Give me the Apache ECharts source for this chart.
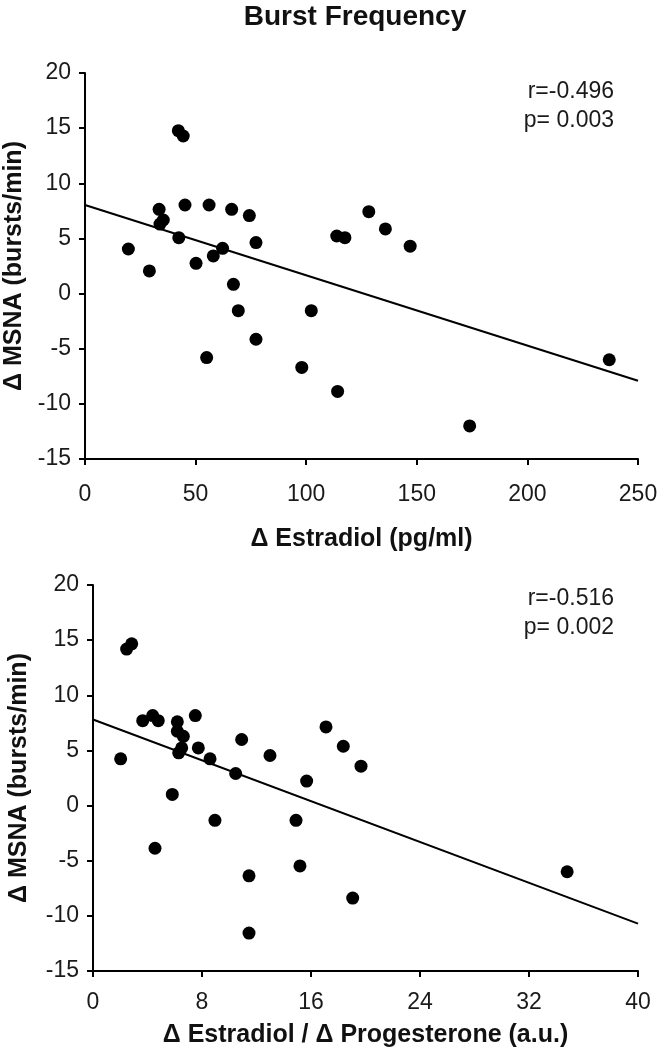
<!DOCTYPE html>
<html>
<head>
<meta charset="utf-8">
<script src="https://cdn.jsdelivr.net/npm/echarts@6/dist/echarts.min.js"></script>
<style>html,body{margin:0;padding:0;background:#fff}#c{width:662px;height:1050px}</style>
</head>
<body>
<div id="c"></div>
<script>
// Top panel: Δ Estradiol (pg/ml) vs Δ MSNA
const estradiolX = [42.2, 44.4, 33.5, 35.4, 33.9, 45.2, 56.1, 66.3, 74.3, 19.6, 42.4, 29.1, 50.2, 58.0, 62.2, 77.3, 67.1, 69.3, 102.3, 77.3, 55.0, 113.8, 117.5, 128.3, 135.8, 147.0, 98.0, 114.2, 173.9, 237.0];
const msnaTopY   = [14.77, 14.29, 7.64, 6.67, 6.3, 8.03, 8.03, 7.64, 7.07, 4.04, 5.07, 2.05, 2.74, 3.41, 4.1, 4.62, 0.84, -1.55, -1.55, -4.14, -5.8, 5.22, 5.07, 7.43, 5.86, 4.3, -6.7, -8.87, -12.0, -6.0];
const fitTop = [[0, 8.03], [250, -7.9]];

// Bottom panel: Δ Estradiol / Δ Progesterone (a.u.) vs Δ MSNA
const ratioX    = [2.47, 2.84, 3.65, 4.38, 4.79, 6.19, 6.19, 6.63, 6.51, 6.29, 7.51, 7.73, 2.03, 8.59, 10.91, 10.47, 12.99, 17.1, 18.37, 19.67, 15.68, 5.82, 8.95, 14.9, 4.55, 15.19, 11.45, 19.06, 11.45, 34.8];
const msnaBotY  = [14.19, 14.67, 7.7, 8.16, 7.7, 7.59, 6.74, 6.28, 5.23, 4.78, 8.16, 5.23, 4.24, 4.24, 5.99, 2.91, 4.54, 7.13, 5.38, 3.57, 2.22, 1.01, -1.34, -1.34, -3.87, -5.47, -6.37, -8.39, -11.56, -6.0];
const fitBot = [[0, 7.8], [40, -10.7]];

const topTicks = [0, 50, 100, 150, 200, 250];
const botTicks = [0, 8, 16, 24, 32, 40];
const yTicks = [-15, -10, -5, 0, 5, 10, 15, 20];

const titleText = 'Burst Frequency';
const yName = 'Δ MSNA (bursts/min)';
const xNameTop = 'Δ Estradiol (pg/ml)';
const xNameBot = 'Δ Estradiol / Δ Progesterone (a.u.)';
const statsTop = ['r=-0.496', 'p= 0.003'];
const statsBot = ['r=-0.516', 'p= 0.002'];

const FONT = '"Liberation Sans", Arial, Helvetica, sans-serif';
const chart = echarts.init(document.getElementById('c'), null, {renderer: 'canvas'});

function zip(xs, ys){ return xs.map((x,i)=>[x, ys[i]]); }

const axisLineStyle = {show:true, onZero:false, lineStyle:{color:'#000', width:2}};
const tickStyle = {show:true, inside:false, length:6, lineStyle:{color:'#000', width:2}};
const labelStyle = {color:'#1a1a1a', fontSize:23, fontFamily:FONT};
const nameStyle = {color:'#111', fontSize:25, fontWeight:'bold', fontFamily:FONT};

function xAxis(idx, ticks, name, margin, gap){
  return {type:'value', gridIndex:idx, min:ticks[0], max:ticks[ticks.length-1], interval:ticks[1]-ticks[0],
    axisLine:axisLineStyle, axisTick:tickStyle, splitLine:{show:false},
    axisLabel:Object.assign({margin:margin}, labelStyle),
    name:name, nameLocation:'middle', nameGap:gap, nameTextStyle:nameStyle};
}
function yAxis(idx, gap){
  return {type:'value', gridIndex:idx, min:yTicks[0], max:yTicks[yTicks.length-1], interval:yTicks[1]-yTicks[0],
    axisLine:axisLineStyle, axisTick:tickStyle, splitLine:{show:false},
    axisLabel:Object.assign({margin:14}, labelStyle),
    name:yName, nameLocation:'middle', nameGap:gap, nameRotate:90, nameTextStyle:nameStyle};
}

const option = {
  backgroundColor:'#fff',
  animation:false,
  grid:[
    {left:85, top:73, width:553, height:386, containLabel:false, outerBoundsMode:'none'},
    {left:93, top:585, width:545, height:386, containLabel:false, outerBoundsMode:'none'}
  ],
  xAxis:[xAxis(0, topTicks, xNameTop, 24, 68),
         xAxis(1, botTicks, xNameBot, 20, 52)],
  yAxis:[yAxis(0, 55), yAxis(1, 61)],
  series:[
    {type:'line', xAxisIndex:0, yAxisIndex:0, data:fitTop, showSymbol:false, lineStyle:{color:'#000', width:2}, z:1},
    {type:'scatter', xAxisIndex:0, yAxisIndex:0, data:zip(estradiolX, msnaTopY), symbolSize:13, itemStyle:{color:'#000', opacity:1}, z:2},
    {type:'line', xAxisIndex:1, yAxisIndex:1, data:fitBot, showSymbol:false, lineStyle:{color:'#000', width:2}, z:1},
    {type:'scatter', xAxisIndex:1, yAxisIndex:1, data:zip(ratioX, msnaBotY), symbolSize:13, itemStyle:{color:'#000', opacity:1}, z:2}
  ],
  graphic:[
    {type:'text', x:355, y:17, style:{text:titleText, font:'bold 28px '+FONT, fill:'#111', align:'center', verticalAlign:'middle'}},
    {type:'text', x:614, y:77, style:{text:statsTop.join('\n'), font:'23px '+FONT, fill:'#1a1a1a', align:'right', verticalAlign:'top', lineHeight:29}},
    {type:'text', x:614, y:584, style:{text:statsBot.join('\n'), font:'23px '+FONT, fill:'#1a1a1a', align:'right', verticalAlign:'top', lineHeight:29}}
  ]
};
chart.setOption(option);
</script>
</body>
</html>
